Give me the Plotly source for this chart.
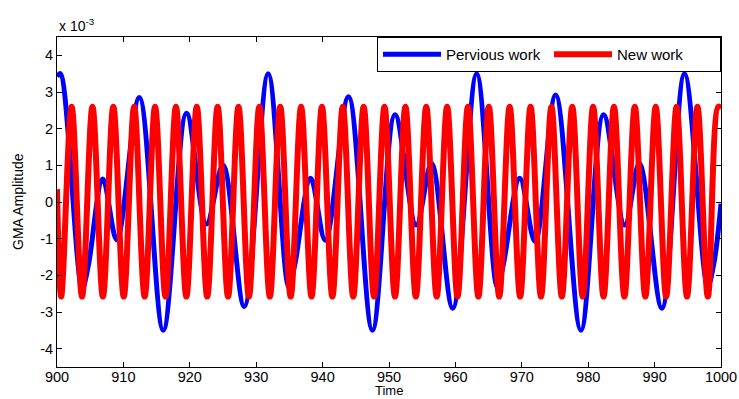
import plotly.graph_objects as go

# Blue curve ("Pervious work"): extremes (units of 1e-3)
blue_t = [900.0, 900.5, 903.8, 904.7, 906.9, 909.0, 912.4, 916.0, 919.5, 922.5, 925.0, 928.2,
          931.8, 934.9, 935.8, 938.2, 940.4, 943.9, 947.5, 950.9, 954.1, 956.4, 959.6,
          963.2, 966.3, 967.2, 969.7, 972.0, 975.1, 978.9, 982.3, 985.5, 987.7, 991.1,
          994.5, 998.0, 998.9, 1000.0]
blue_v = [3.42, 3.5, -2.35, -1.75, 0.63, -1.03, 2.85, -3.5, 2.42, -0.6, 1.0, -2.85,
          3.5, -2.32, -1.72, 0.65, -1.04, 2.87, -3.5, 2.38, -0.63, 1.05, -2.9,
          3.5, -2.32, -1.72, 0.65, -1.08, 2.92, -3.5, 2.38, -0.63, 1.05, -2.9,
          3.5, -2.3, -1.7, -0.05]

# Red curve ("New work"): peaks and troughs (units of 1e-3)
red_t = [900.0, 900.63, 902.20, 903.77, 905.34, 906.91, 908.48, 910.05, 911.62, 913.20,
         914.77, 916.34, 917.91, 919.48, 921.05, 922.62, 924.19, 925.76, 927.33, 928.90,
         930.47, 932.05, 933.62, 935.19, 936.76, 938.33, 939.90, 941.47, 943.04, 944.61,
         946.18, 947.75, 949.32, 950.90, 952.47, 954.04, 955.61, 957.18, 958.75, 960.32,
         961.89, 963.46, 965.03, 966.60, 968.17, 969.75, 971.32, 972.89, 974.46, 976.03,
         977.60, 979.17, 980.74, 982.31, 983.88, 985.45, 987.02, 988.60, 990.17, 991.74,
         993.31, 994.88, 996.45, 998.02, 999.59, 1000.0]
red_v = [0.35, -2.58, 2.6, -2.58, 2.6, -2.58, 2.6, -2.58, 2.6, -2.58,
         2.6, -2.58, 2.6, -2.58, 2.6, -2.58, 2.6, -2.58, 2.6, -2.58,
         2.6, -2.58, 2.6, -2.58, 2.6, -2.58, 2.6, -2.58, 2.6, -2.58,
         2.6, -2.58, 2.6, -2.58, 2.6, -2.58, 2.6, -2.58, 2.6, -2.58,
         2.6, -2.58, 2.6, -2.58, 2.6, -2.58, 2.6, -2.58, 2.6, -2.58,
         2.6, -2.58, 2.6, -2.58, 2.6, -2.58, 2.6, -2.58, 2.6, -2.58,
         2.6, -2.58, 2.6, -2.58, 2.6, 2.55]

x_ticks = [900, 910, 920, 930, 940, 950, 960, 970, 980, 990, 1000]
y_ticks = [-4, -3, -2, -1, 0, 1, 2, 3, 4]

FONT = "Liberation Sans, Arial, sans-serif"
FS = 14.5

fig = go.Figure()
fig.add_trace(go.Scatter(x=blue_t, y=blue_v, mode="lines", name="Pervious work",
                         line=dict(color="#0000ff", width=5, shape="spline", smoothing=1.0)))
fig.add_trace(go.Scatter(x=red_t, y=red_v, mode="lines", name="New work",
                         line=dict(color="#ff0000", width=6, shape="spline", smoothing=1.0)))

axis_common = dict(showline=True, linecolor="black", linewidth=1, mirror="ticks",
                   ticks="inside", ticklen=5, tickcolor="black", showgrid=False,
                   zeroline=False, automargin=False,
                   tickfont=dict(family=FONT, size=FS, color="black"))

fig.update_layout(
    width=739, height=399,
    margin=dict(l=57, r=18, t=37, b=32),
    paper_bgcolor="white", plot_bgcolor="white",
    font=dict(family=FONT, size=FS, color="black"),
    xaxis=dict(range=[900, 1000], tickvals=x_ticks, ticktext=[str(v) for v in x_ticks],
               ticklabelstandoff=-3, **axis_common),
    yaxis=dict(range=[-4.5, 4.5], tickvals=y_ticks, ticktext=[str(v) for v in y_ticks],
               **axis_common),
    legend=dict(orientation="h", x=1, y=1, xanchor="right", yanchor="top",
                bordercolor="black", borderwidth=1, bgcolor="white",
                font=dict(family=FONT, size=15), itemwidth=58,
                entrywidth=98, entrywidthmode="pixels"),
    showlegend=True,
    annotations=[
        dict(text="x 10<sup>-3</sup>", xref="paper", yref="paper", x=0, y=1,
             xanchor="left", yanchor="bottom", yshift=1, showarrow=False,
             font=dict(family=FONT, size=14, color="black")),
        dict(text="Time", xref="paper", yref="paper", x=0.5, y=0,
             xanchor="center", yanchor="bottom", yshift=-33, showarrow=False,
             font=dict(family=FONT, size=13, color="black")),
        dict(text="GMA Amplitude", xref="paper", yref="paper", x=0, y=0.5,
             xanchor="center", yanchor="middle", xshift=-39, textangle=-90, showarrow=False,
             font=dict(family=FONT, size=14, color="black")),
    ],
)

fig.write_html("out.html")
